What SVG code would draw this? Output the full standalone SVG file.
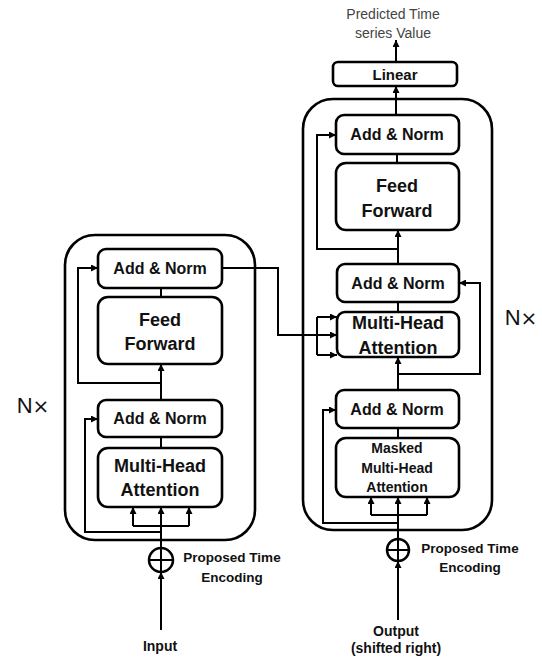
<svg xmlns="http://www.w3.org/2000/svg" width="542" height="658" viewBox="0 0 542 658">
<style>
.outer{fill:none;stroke:#000;stroke-width:2.6}
.box{fill:#fff;stroke:#000;stroke-width:2.6}
.ln{fill:none;stroke:#000;stroke-width:2}
.t{font-family:"Liberation Sans",Arial,sans-serif;font-weight:bold;fill:#111;text-anchor:middle}
.nx{font-family:"Liberation Sans",Arial,sans-serif;font-size:22px;fill:#111;text-anchor:middle}
.x{font-family:"DejaVu Sans",sans-serif;font-size:20px}
</style>
<defs>
<marker id="a" viewBox="0 0 8 8" refX="8" refY="4" markerWidth="7" markerHeight="7" orient="auto" markerUnits="userSpaceOnUse">
<path d="M0,0 L8,4 L0,8 z" fill="#000"/>
</marker>
</defs>

<g id="encoder-block"><rect class="outer" x="65" y="235" width="190" height="305" rx="30"/></g>
<g id="decoder-block"><rect class="outer" x="303" y="99" width="189" height="431" rx="30"/></g>

<g id="connectors">
<line class="ln" x1="161" y1="630" x2="161" y2="572" marker-end="url(#a)"/>
<line class="ln" x1="161" y1="548" x2="161" y2="507" marker-end="url(#a)"/>
<polyline class="ln" points="133,526 189,526"/>
<line class="ln" x1="133" y1="526" x2="133" y2="507" marker-end="url(#a)"/>
<line class="ln" x1="189" y1="526" x2="189" y2="507" marker-end="url(#a)"/>
<polyline class="ln" points="161,532 85,532 85,419 98,419" marker-end="url(#a)"/>
<line class="ln" x1="161" y1="437" x2="161" y2="448"/>
<line class="ln" x1="161" y1="400" x2="161" y2="364" marker-end="url(#a)"/>
<polyline class="ln" points="161,383 78,383 78,268 98,268" marker-end="url(#a)"/>
<line class="ln" x1="161" y1="288" x2="161" y2="297"/>
<polyline class="ln" points="222,268 278,268 278,335 337,335" marker-end="url(#a)"/>
<polyline class="ln" points="317,317 317,355"/>
<line class="ln" x1="317" y1="317" x2="337" y2="317" marker-end="url(#a)"/>
<line class="ln" x1="317" y1="355" x2="337" y2="355" marker-end="url(#a)"/>
<line class="ln" x1="398" y1="620" x2="398" y2="561" marker-end="url(#a)"/>
<line class="ln" x1="398" y1="539" x2="398" y2="497" marker-end="url(#a)"/>
<polyline class="ln" points="371,515 427,515"/>
<line class="ln" x1="371" y1="515" x2="371" y2="497" marker-end="url(#a)"/>
<line class="ln" x1="427" y1="515" x2="427" y2="497" marker-end="url(#a)"/>
<polyline class="ln" points="398,523 323,523 323,410 336,410" marker-end="url(#a)"/>
<line class="ln" x1="398" y1="428" x2="398" y2="438"/>
<line class="ln" x1="398" y1="390" x2="398" y2="357" marker-end="url(#a)"/>
<polyline class="ln" points="398,374 480,374 480,283 459,283" marker-end="url(#a)"/>
<line class="ln" x1="398" y1="302" x2="398" y2="312"/>
<line class="ln" x1="398" y1="264" x2="398" y2="230" marker-end="url(#a)"/>
<polyline class="ln" points="398,249 317,249 317,135 336,135" marker-end="url(#a)"/>
<line class="ln" x1="397" y1="154" x2="397" y2="163"/>
<line class="ln" x1="396" y1="115" x2="396" y2="86" marker-end="url(#a)"/>
<line class="ln" x1="396" y1="62" x2="396" y2="40" marker-end="url(#a)"/>
</g>

<g id="enc-add-norm-2"><rect class="box" x="98" y="249" width="124" height="39" rx="8"/><text class="t" x="160" y="274" font-size="16">Add &amp; Norm</text></g>
<g id="enc-feed-forward"><rect class="box" x="98" y="297" width="124" height="67" rx="10"/><text class="t" x="160" y="325.5" font-size="18">Feed</text><text class="t" x="160" y="349.5" font-size="18">Forward</text></g>
<g id="enc-add-norm-1"><rect class="box" x="98" y="400" width="124" height="37" rx="8"/><text class="t" x="160" y="424" font-size="16">Add &amp; Norm</text></g>
<g id="enc-mha"><rect class="box" x="98" y="448" width="124" height="59" rx="10"/><text class="t" x="160" y="471.5" font-size="18">Multi-Head</text><text class="t" x="160" y="495.5" font-size="18">Attention</text></g>
<g id="enc-pe"><circle cx="161" cy="560" r="12" fill="#fff" stroke="#000" stroke-width="2.5"/><line class="ln" x1="149" y1="560" x2="173" y2="560"/><line class="ln" x1="161" y1="548" x2="161" y2="572"/></g>
<g id="enc-pe-label"><text class="t" x="232" y="562" font-size="13.5">Proposed Time</text><text class="t" x="232" y="582" font-size="13.5">Encoding</text></g>
<g id="input-label"><text class="t" x="160" y="651" font-size="14">Input</text></g>
<g id="enc-nx"><text class="nx" x="33" y="413">N<tspan class="x">×</tspan></text></g>

<g id="linear"><rect class="box" x="333" y="62" width="124" height="24" rx="5"/><text class="t" x="395" y="79.5" font-size="15">Linear</text></g>
<g id="output-label-top"><text x="393" y="19" font-family="'Liberation Sans',Arial,sans-serif" font-size="14" fill="#444" text-anchor="middle">Predicted Time</text><text x="393" y="38" font-family="'Liberation Sans',Arial,sans-serif" font-size="14" fill="#444" text-anchor="middle">series Value</text></g>
<g id="dec-add-norm-3"><rect class="box" x="336" y="115" width="123" height="39" rx="8"/><text class="t" x="397" y="140" font-size="16">Add &amp; Norm</text></g>
<g id="dec-feed-forward"><rect class="box" x="336" y="163" width="123" height="67" rx="10"/><text class="t" x="397" y="191.5" font-size="18">Feed</text><text class="t" x="397" y="216.5" font-size="18">Forward</text></g>
<g id="dec-add-norm-2"><rect class="box" x="337" y="264" width="122" height="38" rx="8"/><text class="t" x="398" y="288.5" font-size="16">Add &amp; Norm</text></g>
<g id="dec-mha"><rect class="box" x="337" y="312" width="122" height="45" rx="8"/><text class="t" x="398" y="328.5" font-size="18">Multi-Head</text><text class="t" x="398" y="353.5" font-size="18">Attention</text></g>
<g id="dec-add-norm-1"><rect class="box" x="336" y="390" width="123" height="38" rx="8"/><text class="t" x="397" y="415" font-size="16">Add &amp; Norm</text></g>
<g id="dec-masked-mha"><rect class="box" x="336" y="438" width="123" height="59" rx="10"/><text class="t" x="397" y="453" font-size="14">Masked</text><text class="t" x="397" y="473" font-size="14">Multi-Head</text><text class="t" x="397" y="492" font-size="14">Attention</text></g>
<g id="dec-pe"><circle cx="398" cy="550" r="11" fill="#fff" stroke="#000" stroke-width="2.5"/><line class="ln" x1="387" y1="550" x2="409" y2="550"/><line class="ln" x1="398" y1="539" x2="398" y2="561"/></g>
<g id="dec-pe-label"><text class="t" x="470" y="553" font-size="13.5">Proposed Time</text><text class="t" x="470" y="572" font-size="13.5">Encoding</text></g>
<g id="output-label"><text class="t" x="396" y="636" font-size="14">Output</text><text class="t" x="396" y="653" font-size="14">(shifted right)</text></g>
<g id="dec-nx"><text class="nx" x="521" y="325">N<tspan class="x">×</tspan></text></g>
</svg>
